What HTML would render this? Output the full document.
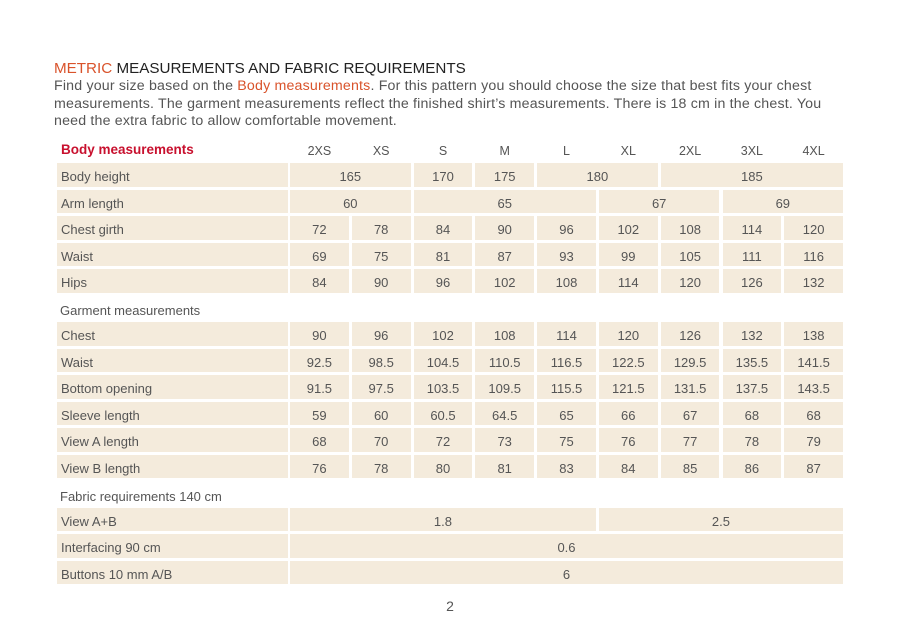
<!DOCTYPE html>
<html><head><meta charset="utf-8"><style>
body{margin:0;width:900px;height:642px;background:#fff;position:relative;font-family:"Liberation Sans",sans-serif;color:#555;overflow:hidden}
.t{position:absolute;white-space:nowrap}
.c{position:absolute;background:#f4ebdc;height:23.5px;line-height:28px;font-size:13px;text-align:center;color:#555;overflow:hidden}
.l{text-align:left;padding-left:4px;box-sizing:border-box}
.h{position:absolute;font-size:12.5px;text-align:center;width:58.8px;top:144px;color:#555}
.s{position:absolute;left:60px;font-size:13px;color:#555}
</style></head><body>
<div class="t" style="left:54px;top:60px;font-size:15.2px;color:#222"><span style="color:#d9532b">METRIC</span> MEASUREMENTS AND FABRIC REQUIREMENTS</div>
<div class="t" style="left:54px;top:78px;font-size:14.2px;letter-spacing:0.18px;line-height:17.5px;color:#555">Find your size based on the <span style="color:#d9532b">Body measurements</span>. For this pattern you should choose the size that best fits your chest<br>measurements. The garment measurements reflect the finished shirt’s measurements. There is 18 cm in the chest. You<br>need the extra fabric to allow comfortable movement.</div>
<div class="t" style="left:61px;top:142px;font-size:13.5px;font-weight:bold;color:#c8102e">Body measurements</div>
<div class="h" style="left:290px">2XS</div><div class="h" style="left:351.8px">XS</div><div class="h" style="left:413.6px">S</div><div class="h" style="left:475.3px">M</div><div class="h" style="left:537.1px">L</div><div class="h" style="left:598.9px">XL</div><div class="h" style="left:660.7px">2XL</div><div class="h" style="left:722.5px">3XL</div><div class="h" style="left:784.2px">4XL</div>

<div class="c l" style="left:57px;width:231px;top:163px">Body height</div>
<div class="c" style="left:290px;width:120.6px;top:163px">165</div>
<div class="c" style="left:413.6px;width:58.8px;top:163px">170</div>
<div class="c" style="left:475.3px;width:58.8px;top:163px">175</div>
<div class="c" style="left:537.1px;width:120.6px;top:163px">180</div>
<div class="c" style="left:660.7px;width:182.3px;top:163px">185</div>

<div class="c l" style="left:57px;width:231px;top:189.5px">Arm length</div>
<div class="c" style="left:290px;width:120.6px;top:189.5px">60</div>
<div class="c" style="left:413.6px;width:182.3px;top:189.5px">65</div>
<div class="c" style="left:598.9px;width:120.6px;top:189.5px">67</div>
<div class="c" style="left:722.5px;width:120.6px;top:189.5px">69</div>

<div class="c l" style="left:57px;width:231px;top:216px">Chest girth</div>
<div class="c" style="left:290px;width:58.8px;top:216px">72</div><div class="c" style="left:351.8px;width:58.8px;top:216px">78</div><div class="c" style="left:413.6px;width:58.8px;top:216px">84</div><div class="c" style="left:475.3px;width:58.8px;top:216px">90</div><div class="c" style="left:537.1px;width:58.8px;top:216px">96</div><div class="c" style="left:598.9px;width:58.8px;top:216px">102</div><div class="c" style="left:660.7px;width:58.8px;top:216px">108</div><div class="c" style="left:722.5px;width:58.8px;top:216px">114</div><div class="c" style="left:784.2px;width:58.8px;top:216px">120</div>

<div class="c l" style="left:57px;width:231px;top:242.5px">Waist</div>
<div class="c" style="left:290px;width:58.8px;top:242.5px">69</div><div class="c" style="left:351.8px;width:58.8px;top:242.5px">75</div><div class="c" style="left:413.6px;width:58.8px;top:242.5px">81</div><div class="c" style="left:475.3px;width:58.8px;top:242.5px">87</div><div class="c" style="left:537.1px;width:58.8px;top:242.5px">93</div><div class="c" style="left:598.9px;width:58.8px;top:242.5px">99</div><div class="c" style="left:660.7px;width:58.8px;top:242.5px">105</div><div class="c" style="left:722.5px;width:58.8px;top:242.5px">111</div><div class="c" style="left:784.2px;width:58.8px;top:242.5px">116</div>

<div class="c l" style="left:57px;width:231px;top:269px">Hips</div>
<div class="c" style="left:290px;width:58.8px;top:269px">84</div><div class="c" style="left:351.8px;width:58.8px;top:269px">90</div><div class="c" style="left:413.6px;width:58.8px;top:269px">96</div><div class="c" style="left:475.3px;width:58.8px;top:269px">102</div><div class="c" style="left:537.1px;width:58.8px;top:269px">108</div><div class="c" style="left:598.9px;width:58.8px;top:269px">114</div><div class="c" style="left:660.7px;width:58.8px;top:269px">120</div><div class="c" style="left:722.5px;width:58.8px;top:269px">126</div><div class="c" style="left:784.2px;width:58.8px;top:269px">132</div>

<div class="s" style="top:303px">Garment measurements</div>

<div class="c l" style="left:57px;width:231px;top:322px">Chest</div>
<div class="c" style="left:290px;width:58.8px;top:322px">90</div><div class="c" style="left:351.8px;width:58.8px;top:322px">96</div><div class="c" style="left:413.6px;width:58.8px;top:322px">102</div><div class="c" style="left:475.3px;width:58.8px;top:322px">108</div><div class="c" style="left:537.1px;width:58.8px;top:322px">114</div><div class="c" style="left:598.9px;width:58.8px;top:322px">120</div><div class="c" style="left:660.7px;width:58.8px;top:322px">126</div><div class="c" style="left:722.5px;width:58.8px;top:322px">132</div><div class="c" style="left:784.2px;width:58.8px;top:322px">138</div>

<div class="c l" style="left:57px;width:231px;top:348.5px">Waist</div>
<div class="c" style="left:290px;width:58.8px;top:348.5px">92.5</div><div class="c" style="left:351.8px;width:58.8px;top:348.5px">98.5</div><div class="c" style="left:413.6px;width:58.8px;top:348.5px">104.5</div><div class="c" style="left:475.3px;width:58.8px;top:348.5px">110.5</div><div class="c" style="left:537.1px;width:58.8px;top:348.5px">116.5</div><div class="c" style="left:598.9px;width:58.8px;top:348.5px">122.5</div><div class="c" style="left:660.7px;width:58.8px;top:348.5px">129.5</div><div class="c" style="left:722.5px;width:58.8px;top:348.5px">135.5</div><div class="c" style="left:784.2px;width:58.8px;top:348.5px">141.5</div>

<div class="c l" style="left:57px;width:231px;top:375px">Bottom opening</div>
<div class="c" style="left:290px;width:58.8px;top:375px">91.5</div><div class="c" style="left:351.8px;width:58.8px;top:375px">97.5</div><div class="c" style="left:413.6px;width:58.8px;top:375px">103.5</div><div class="c" style="left:475.3px;width:58.8px;top:375px">109.5</div><div class="c" style="left:537.1px;width:58.8px;top:375px">115.5</div><div class="c" style="left:598.9px;width:58.8px;top:375px">121.5</div><div class="c" style="left:660.7px;width:58.8px;top:375px">131.5</div><div class="c" style="left:722.5px;width:58.8px;top:375px">137.5</div><div class="c" style="left:784.2px;width:58.8px;top:375px">143.5</div>

<div class="c l" style="left:57px;width:231px;top:401.5px">Sleeve length</div>
<div class="c" style="left:290px;width:58.8px;top:401.5px">59</div><div class="c" style="left:351.8px;width:58.8px;top:401.5px">60</div><div class="c" style="left:413.6px;width:58.8px;top:401.5px">60.5</div><div class="c" style="left:475.3px;width:58.8px;top:401.5px">64.5</div><div class="c" style="left:537.1px;width:58.8px;top:401.5px">65</div><div class="c" style="left:598.9px;width:58.8px;top:401.5px">66</div><div class="c" style="left:660.7px;width:58.8px;top:401.5px">67</div><div class="c" style="left:722.5px;width:58.8px;top:401.5px">68</div><div class="c" style="left:784.2px;width:58.8px;top:401.5px">68</div>

<div class="c l" style="left:57px;width:231px;top:428px">View A length</div>
<div class="c" style="left:290px;width:58.8px;top:428px">68</div><div class="c" style="left:351.8px;width:58.8px;top:428px">70</div><div class="c" style="left:413.6px;width:58.8px;top:428px">72</div><div class="c" style="left:475.3px;width:58.8px;top:428px">73</div><div class="c" style="left:537.1px;width:58.8px;top:428px">75</div><div class="c" style="left:598.9px;width:58.8px;top:428px">76</div><div class="c" style="left:660.7px;width:58.8px;top:428px">77</div><div class="c" style="left:722.5px;width:58.8px;top:428px">78</div><div class="c" style="left:784.2px;width:58.8px;top:428px">79</div>

<div class="c l" style="left:57px;width:231px;top:454.5px">View B length</div>
<div class="c" style="left:290px;width:58.8px;top:454.5px">76</div><div class="c" style="left:351.8px;width:58.8px;top:454.5px">78</div><div class="c" style="left:413.6px;width:58.8px;top:454.5px">80</div><div class="c" style="left:475.3px;width:58.8px;top:454.5px">81</div><div class="c" style="left:537.1px;width:58.8px;top:454.5px">83</div><div class="c" style="left:598.9px;width:58.8px;top:454.5px">84</div><div class="c" style="left:660.7px;width:58.8px;top:454.5px">85</div><div class="c" style="left:722.5px;width:58.8px;top:454.5px">86</div><div class="c" style="left:784.2px;width:58.8px;top:454.5px">87</div>

<div class="s" style="top:489px">Fabric requirements 140 cm</div>

<div class="c l" style="left:57px;width:231px;top:507.5px">View A+B</div>
<div class="c" style="left:290px;width:305.9px;top:507.5px">1.8</div>
<div class="c" style="left:598.9px;width:244.1px;top:507.5px">2.5</div>

<div class="c l" style="left:57px;width:231px;top:534px">Interfacing 90 cm</div>
<div class="c" style="left:290px;width:553px;top:534px">0.6</div>

<div class="c l" style="left:57px;width:231px;top:560.5px">Buttons 10 mm A/B</div>
<div class="c" style="left:290px;width:553px;top:560.5px">6</div>

<div class="t" style="left:0;width:900px;text-align:center;top:598px;font-size:14px">2</div>
</body></html>
